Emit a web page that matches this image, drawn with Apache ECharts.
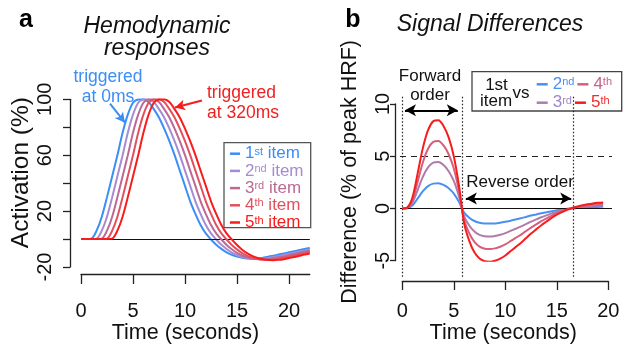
<!DOCTYPE html>
<html><head><meta charset="utf-8">
<script src="https://cdn.jsdelivr.net/npm/echarts@6/dist/echarts.min.js"></script>
<style>html,body{margin:0;padding:0;background:#fff}#c{width:629px;height:351px}</style>
</head><body><div id="c"></div>
<script>
// ---------- Panel a: hemodynamic responses (time in s, activation in %) ----------
const timeA = [0,0.5,1,1.5,2,2.5,3,3.5,4,4.5,5,5.5,6,6.5,7,7.5,8,8.5,9,9.5,10,10.5,11,11.5,12,12.5,13,13.5,14,14.5,15,15.5,16,16.5,17,17.5,18,18.5,19,19.5,20,20.5,21,21.5,22];
const item1 = [0,0,0.3,6,16,30,45,60,76,89,97.5,99.8,100,98,93,87,79,70,60,49,38,27,18,10,4,-0.3,-4,-7,-9.5,-11.3,-12.6,-13.4,-13.9,-14,-13.8,-13.3,-12.6,-11.9,-11.1,-10.3,-9.5,-8.7,-7.9,-7.1,-6.4];
const item2 = [0,0,0,0.3,6,16,30,45,60,76,89,97.5,99.8,100,98,93,87,79,70,60,49,38,27,18,10,4,-0.3,-4.1,-7.1,-9.7,-11.5,-12.9,-13.7,-14.2,-14.3,-14.1,-13.6,-12.9,-12.1,-11.3,-10.5,-9.7,-8.9,-8.1,-7.3];
const item3 = [0,0,0,0,0.3,6,16,30,45,60,76,89,97.5,99.8,100,98,93,87,79,70,60,49,38,27,18,10,4,-0.3,-4.2,-7.3,-9.9,-11.8,-13.1,-13.9,-14.5,-14.6,-14.4,-13.8,-13.1,-12.4,-11.5,-10.7,-9.9,-9.0,-8.2];
const item4 = [0,0,0,0,0,0.3,6,16,30,45,60,76,89,97.5,99.8,100,98,93,87,79,70,60,49,38,27,18,10,4,-0.3,-4.2,-7.4,-10.1,-12.0,-13.4,-14.2,-14.7,-14.8,-14.6,-14.1,-13.4,-12.6,-11.8,-10.9,-10.1,-9.2];
const item5 = [0,0,0,0,0,0,0.3,6,16,30,45,60,76,89,97.5,99.8,100,98,93,87,79,70,60,49,38,27,18,10,4,-0.3,-4.3,-7.6,-10.3,-12.2,-13.6,-14.5,-15.0,-15.1,-14.9,-14.4,-13.6,-12.9,-12.0,-11.1,-10.3];
const namesA = ['1st item','2nd item','3rd item','4th item','5th item'];
const xTicksA = [0,5,10,15,20];
const yTicksA = [-20,0,20,40,60,80,100];
const yLabelsA = [-20,20,60,100];

// ---------- Panel b: signal differences (% of peak HRF) ----------
const timeB = [0,0.5,1,1.5,2,2.5,3,3.5,4,4.5,5,5.5,6,6.5,7,7.5,8,8.5,9,9.5,10,10.5,11,11.5,12,12.5,13,13.5,14,14.5,15,15.5,16,16.5,17,17.5,18,18.5,19,19.5];
const vs2 = [0,0.03,0.31,0.97,1.65,2.14,2.38,2.41,2.25,1.94,1.43,0.63,-0.4,-0.88,-1.2,-1.37,-1.44,-1.45,-1.43,-1.37,-1.28,-1.17,-1.05,-0.94,-0.81,-0.68,-0.57,-0.46,-0.36,-0.26,-0.17,-0.1,-0.03,0.01,0.05,0.09,0.11,0.14,0.15,0.17];
const vs3 = [0,0.05,0.58,1.79,3.05,3.94,4.38,4.44,4.15,3.57,2.63,1.16,-0.74,-1.63,-2.2,-2.52,-2.65,-2.68,-2.63,-2.52,-2.36,-2.15,-1.94,-1.73,-1.5,-1.26,-1.05,-0.84,-0.66,-0.47,-0.32,-0.18,-0.06,0.03,0.09,0.16,0.21,0.25,0.28,0.3];
const vs4 = [0,0.08,0.84,2.59,4.43,5.72,6.37,6.45,6.03,5.19,3.82,1.68,-1.07,-2.37,-3.2,-3.66,-3.85,-3.89,-3.82,-3.66,-3.43,-3.13,-2.82,-2.52,-2.17,-1.83,-1.53,-1.22,-0.95,-0.69,-0.46,-0.27,-0.09,0.04,0.14,0.23,0.31,0.37,0.41,0.44];
const vs5 = [0,0.1,1.1,3.4,5.8,7.5,8.35,8.45,7.9,6.8,5.0,2.2,-1.4,-3.1,-4.2,-4.8,-5.05,-5.1,-5.0,-4.8,-4.5,-4.1,-3.7,-3.3,-2.85,-2.4,-2.0,-1.6,-1.25,-0.9,-0.6,-0.35,-0.12,0.05,0.18,0.3,0.4,0.48,0.54,0.58];
const namesB = ['vs 2nd','vs 3rd','vs 4th','vs 5th'];
const xTicksB = [0,5,10,15,20];
const yTicksB = [-5,0,5,10];
const orderBounds = [0, 5.85, 16.55];   // boundaries of forward / reverse order (s)
const threshold = 5;

const FF = 'Liberation Sans';
const colA = ['#3a8ef5','#a78bd2','#bb6a94','#e2505f','#f81c1c'];
const colB = ['#4a90f2','#b27aa8','#d6607c','#f81c1c'];
const legTextB = ['#4a8ff2','#9f86c8','#c5648a','#f02a2a'];

const pairs = (t, v) => t.map((x, i) => [x, v[i]]);
const supA = {'1st item':['1','st'],'2nd item':['2','nd'],'3rd item':['3','rd'],'4th item':['4','th'],'5th item':['5','th']};
const supB = {'vs 2nd':['2','nd'],'vs 3rd':['3','rd'],'vs 4th':['4','th'],'vs 5th':['5','th']};
const rich = {
  n: {fontSize: 17, fontFamily: FF, lineHeight: 15},
  s: {fontSize: 11, fontFamily: FF, lineHeight: 11, verticalAlign: 'top'}
};
const axLine = {show: true, onZero: false, lineStyle: {color: '#222', width: 1.3}};
const tickSt = {color: '#222', width: 1.3};
const font = (s) => s + 'px "Liberation Sans"';
const tickRich = {t: {fontSize: 20, fontFamily: FF, color: '#111'}};
const nameRich = (s, pad) => ({padding: pad, rich: {t: {fontSize: s, fontFamily: FF, color: '#111'}}});
const tickFmt = v => `{t|${v}}`;

const seriesA = [item1,item2,item3,item4,item5].map((v, k) => ({
  type: 'line', name: namesA[k], xAxisIndex: 0, yAxisIndex: 0,
  data: pairs(timeA, v), showSymbol: false, smooth: 0.3,
  lineStyle: {width: 2, color: colA[k]}, itemStyle: {color: colA[k]}, z: 3 + k
}));
seriesA[0].markLine = {silent: true, symbol: 'none', label: {show: false}, animation: false,
  data: [
    {yAxis: 0, lineStyle: {color: '#111', width: 1.2, type: 'solid'}},
    [{coord: [2.79, 96.9], symbol: 'none', lineStyle: {color: colA[0], width: 2, type: 'solid'}},
     {coord: [4.23, 83.3], symbol: 'arrow', symbolSize: [8, 10]}]
  ]};
seriesA[4].markLine = {silent: true, symbol: 'none', label: {show: false}, animation: false,
  data: [
    [{coord: [11.63, 99.1], symbol: 'none', lineStyle: {color: colA[4], width: 2, type: 'solid'}},
     {coord: [9.04, 94.1], symbol: 'arrow', symbolSize: [8, 10]}]
  ]};

const seriesB = [vs2,vs3,vs4,vs5].map((v, k) => ({
  type: 'line', name: namesB[k], xAxisIndex: 1, yAxisIndex: 1,
  data: pairs(timeB, v), showSymbol: false, smooth: 0.3,
  lineStyle: {width: 2, color: colB[k]}, itemStyle: {color: colB[k]}, z: 3 + k
}));
seriesB[3].markLine = {silent: true, symbol: ['arrow','arrow'], symbolSize: [9, 11], label: {show: false}, animation: false,
  lineStyle: {color: '#000', width: 2, type: 'solid'},
  data: [
    [{coord: [0.26, 9.39]}, {coord: [5.39, 9.39]}],
    [{coord: [6.17, 0.955]}, {coord: [16.4, 0.955]}]
  ]};
const guides = {
  type: 'line', name: 'guides', xAxisIndex: 2, yAxisIndex: 2, data: [], showSymbol: false, z: 2,
  markLine: {silent: true, symbol: 'none', label: {show: false}, animation: false,
    data: [
      {yAxis: 0, lineStyle: {color: '#111', width: 1.2, type: 'solid'}},
      {yAxis: threshold, lineStyle: {color: '#222', width: 1, type: [6, 5]}},
      ...orderBounds.map(b => ({xAxis: b, lineStyle: {color: '#222', width: 1.2, type: [1.5, 2]}}))
    ]}
};

const option = {
  animation: false,
  backgroundColor: '#fff',
  textStyle: {fontFamily: FF},
  grid: [
    {left: 81, top: 99.3, width: 228.8, height: 167.7, outerBoundsMode: 'none', containLabel: false},
    {left: 402.3, top: 104, width: 206, height: 156.7, outerBoundsMode: 'none', containLabel: false},
    {left: 400, top: 96.7, width: 212, height: 180, outerBoundsMode: 'none', containLabel: false}
  ],
  xAxis: [
    {gridIndex: 0, type: 'value', min: 0, max: 22, offset: 7, axisLine: axLine,
     axisTick: {show: true, customValues: xTicksA, length: 10, lineStyle: tickSt},
     axisLabel: {customValues: xTicksA, margin: 27, formatter: tickFmt, rich: tickRich},
     splitLine: {show: false},
     name: '{t|Time (seconds)}', nameLocation: 'middle', nameGap: 48, nameTextStyle: nameRich(21.5, [0, 20, 0, 0])},
    {gridIndex: 1, type: 'value', min: 0, max: 20, offset: 20.3, axisLine: axLine,
     axisTick: {show: true, customValues: xTicksB, length: 9, lineStyle: tickSt},
     axisLabel: {customValues: xTicksB, margin: 20, formatter: tickFmt, rich: tickRich},
     splitLine: {show: false},
     name: '{t|Time (seconds)}', nameLocation: 'middle', nameGap: 41, nameTextStyle: nameRich(21.5, [0, 4, 0, 0])},
    {gridIndex: 2, type: 'value', min: -0.223, max: 20.36, show: false, splitLine: {show: false}}
  ],
  yAxis: [
    {gridIndex: 0, type: 'value', min: -20, max: 100, offset: 11, axisLine: axLine,
     axisTick: {show: true, customValues: yTicksA, length: 7, lineStyle: tickSt},
     axisLabel: {customValues: yLabelsA, rotate: 90, margin: 15, formatter: tickFmt, rich: tickRich},
     splitLine: {show: false},
     name: '{t|Activation (%)}', nameLocation: 'middle', nameGap: 36,
     nameTextStyle: nameRich(24.5, [0, 0, 0, 21])},
    {gridIndex: 1, type: 'value', min: -5, max: 10, offset: 7.3, axisLine: axLine,
     axisTick: {show: true, customValues: yTicksB, length: 5, lineStyle: tickSt},
     axisLabel: {customValues: yTicksB, rotate: 90, margin: 2, formatter: tickFmt, rich: tickRich},
     splitLine: {show: false},
     name: '{t|Difference (% of peak HRF)}', nameLocation: 'middle', nameGap: 34,
     nameTextStyle: nameRich(21.5, [0, 0, 0, 21])},
    {gridIndex: 2, type: 'value', min: -6.56, max: 10.67, show: false, splitLine: {show: false}}
  ],
  legend: [
    {left: 230, top: 145.2, orient: 'vertical', padding: 0, itemGap: 0.2, icon: 'rect',
     itemWidth: 10, itemHeight: 2.5, selectedMode: false,
     data: namesA.map((n, k) => ({name: n, textStyle: {color: colA[k]}})),
     formatter: n => `{n|${supA[n][0]}}{s|${supA[n][1]}}{n| item}`,
     textStyle: {fontSize: 17, fontFamily: FF, lineHeight: 15, rich}},
    {left: 536.7, top: 75.8, orient: 'horizontal', padding: 0, itemGap: 3, icon: 'rect',
     itemWidth: 11, itemHeight: 2.5, selectedMode: false,
     data: [{name: namesB[0], textStyle: {color: legTextB[0]}}, {name: namesB[2], textStyle: {color: legTextB[2]}}],
     formatter: n => `{n|${supB[n][0]}}{s|${supB[n][1]}}`,
     textStyle: {fontSize: 17, fontFamily: FF, lineHeight: 15, rich}},
    {left: 536.7, top: 94.2, orient: 'horizontal', padding: 0, itemGap: 3, icon: 'rect',
     itemWidth: 11, itemHeight: 2.5, selectedMode: false,
     data: [{name: namesB[1], textStyle: {color: legTextB[1]}}, {name: namesB[3], textStyle: {color: legTextB[3]}}],
     formatter: n => `{n|${supB[n][0]}}{s|${supB[n][1]}}`,
     textStyle: {fontSize: 17, fontFamily: FF, lineHeight: 15, rich}}
  ],
  graphic: [
    {type: 'rect', shape: {x: 224, y: 142.7, width: 86.7, height: 85}, style: {fill: 'none', stroke: '#555', lineWidth: 1.3}},
    {type: 'rect', shape: {x: 472, y: 71.7, width: 149.7, height: 39.3}, style: {fill: 'none', stroke: '#444', lineWidth: 1.3}},
    {type: 'text', x: 26, y: 20.5, style: {text: 'a', font: 'bold ' + font(25), fill: '#000', align: 'center', verticalAlign: 'middle'}},
    {type: 'text', x: 157, y: 27, style: {text: 'Hemodynamic', font: 'italic ' + font(23), fill: '#111', align: 'center', verticalAlign: 'middle'}},
    {type: 'text', x: 157, y: 49, style: {text: 'responses', font: 'italic ' + font(23), fill: '#111', align: 'center', verticalAlign: 'middle'}},
    {type: 'text', x: 353, y: 20, style: {text: 'b', font: 'bold ' + font(25), fill: '#000', align: 'center', verticalAlign: 'middle'}},
    {type: 'text', x: 490, y: 25, style: {text: 'Signal Differences', font: 'italic ' + font(23), fill: '#111', align: 'center', verticalAlign: 'middle'}},
    {type: 'text', x: 108, y: 77, style: {text: 'triggered', font: font(17.5), fill: colA[0], align: 'center', verticalAlign: 'middle'}},
    {type: 'text', x: 108, y: 97, style: {text: 'at 0ms', font: font(17.5), fill: colA[0], align: 'center', verticalAlign: 'middle'}},
    {type: 'text', x: 207, y: 93, style: {text: 'triggered', font: font(17.5), fill: '#f02020', align: 'left', verticalAlign: 'middle'}},
    {type: 'text', x: 207, y: 113, style: {text: 'at 320ms', font: font(17.5), fill: '#f02020', align: 'left', verticalAlign: 'middle'}},
    {type: 'text', x: 430, y: 76, style: {text: 'Forward', font: font(17), fill: '#111', align: 'center', verticalAlign: 'middle'}},
    {type: 'text', x: 430, y: 95, style: {text: 'order', font: font(17), fill: '#111', align: 'center', verticalAlign: 'middle'}},
    {type: 'text', x: 520, y: 182.7, style: {text: 'Reverse order', font: font(17), fill: '#111', align: 'center', verticalAlign: 'middle'}},
    {type: 'text', x: 496.5, y: 85, style: {text: '1st', font: font(17), fill: '#111', align: 'center', verticalAlign: 'middle'}},
    {type: 'text', x: 496, y: 101.7, style: {text: 'item', font: font(17), fill: '#111', align: 'center', verticalAlign: 'middle'}},
    {type: 'text', x: 521, y: 93, style: {text: 'vs', font: font(17), fill: '#111', align: 'center', verticalAlign: 'middle'}}
  ],
  series: [...seriesA, ...seriesB, guides]
};
const chart = echarts.init(document.getElementById('c'), null, {renderer: 'canvas'});
chart.setOption(option);
</script>
</body></html>
